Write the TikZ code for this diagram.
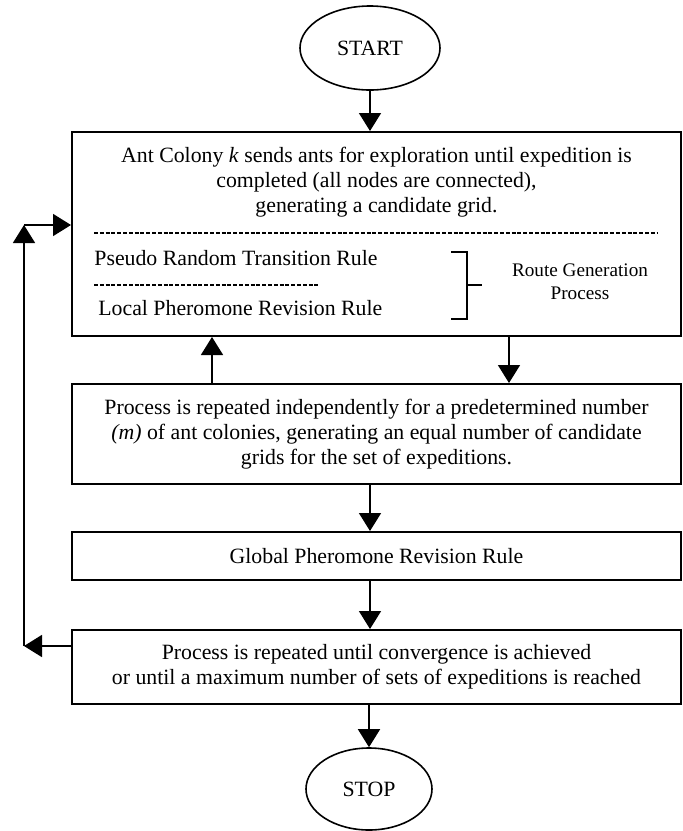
\documentclass[tikz,border=0pt]{standalone}
\usepackage{fontspec}
\setmainfont{Liberation Serif}
\usetikzlibrary{arrows.meta,shapes.geometric}

\begin{document}
\begin{tikzpicture}[
            x=0.5pt, y=-0.5pt,
            every node/.style={font=\fontsize{10.9}{12.5}\selectfont},
            terminal/.style={ellipse, draw, line width=0.8pt, minimum width=70pt, minimum height=42pt},
            procbox/.style={rectangle, draw, line width=1pt, minimum width=304.5pt, align=center, inner sep=0pt},
            textline/.style={align=center, inner sep=0pt},
            rulefont/.style={font=\fontsize{9.6}{11.5}\selectfont},
            sepline/.style={line width=0.8pt, dash pattern=on 2pt off 0.9pt},
            arr/.style={draw, line width=0.8pt, -{Triangle[width=11pt,length=9pt]}}]

            \useasboundingbox (0,0) rectangle (683,831);

            \node[terminal] (start) at (370,48) {START};

            \node[procbox, minimum height=102pt] (colony) at (376.5,234) {};
            \node[textline] (colonytext) at (376.5,182.5)
                {Ant Colony \textit{k} sends ants for exploration until expedition is\\
                 completed (all nodes are connected),\\
                 generating a candidate grid.};
            \node[textline, anchor=west] (pseudo) at (94,258) {Pseudo Random Transition Rule};
            \node[textline, anchor=west] (localrule) at (98,308) {Local Pheromone Revision Rule};
            \node[textline, rulefont] (route) at (580,281.5) {Route Generation\\Process};

            \draw[sepline] (94,233) -- (658,233);
            \draw[sepline] (94,285) -- (318,285);
            \draw[line width=0.8pt] (451,252) -- (467,252) -- (467,319) -- (451,319);
            \draw[line width=0.8pt] (467,285) -- (482,285);

            \node[procbox, minimum height=50pt] (repeat) at (376.5,434)
                {Process is repeated independently for a predetermined number\\
                 \textit{(m)} of ant colonies, generating an equal number of candidate\\
                 grids for the set of expeditions.};
            \node[procbox, minimum height=24pt] (globalrule) at (376.5,556) {Global Pheromone Revision Rule};
            \node[procbox, minimum height=37pt] (converge) at (376.5,667)
                {Process is repeated until convergence is achieved\\
                 or until a maximum number of sets of expeditions is reached};

            \node[terminal, minimum width=63pt, minimum height=41pt] (stop) at (369,789) {STOP};

            \coordinate (loopbottom) at (24,646);
            \coordinate (looptop) at (24,225);

            \draw[arr] (start.south) -- (start.south |- colony.north);
            \draw[arr] ([xshift=66.25pt]colony.south) -- ([xshift=66.25pt]repeat.north);
            \draw[arr] ([xshift=-82.25pt]repeat.north) -- ([xshift=-82.25pt]colony.south);
            \draw[arr] (repeat.south -| start) -- (globalrule.north -| start);
            \draw[arr] (globalrule.south -| start) -- (converge.north -| start);
            \draw[arr] (converge.south -| stop) -- (stop.north);

            \draw[arr] ([yshift=10.5pt]converge.west) -- (loopbottom);
            \draw[arr] (loopbottom) -- (looptop);
            \draw[arr] (looptop) -- (looptop -| colony.west);
        \end{tikzpicture}
\end{document}
